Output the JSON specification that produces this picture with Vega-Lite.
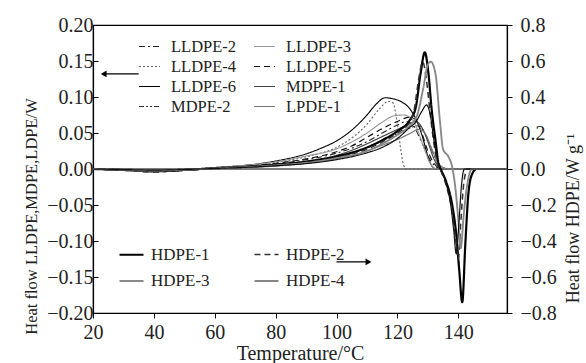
{
  "$schema": "https://vega.github.io/schema/vega-lite/v6.json",
  "width": 414,
  "height": 288,
  "autosize": {"type": "none"},
  "padding": {"left": 93, "top": 25, "right": 79, "bottom": 50},
  "background": "white",
  "datasets": {
    "ll": [
      {"s":"LLDPE-6","t":20,"v":0},{"s":"LLDPE-6","t":30,"v":-0.002},{"s":"LLDPE-6","t":40,"v":-0.004},{"s":"LLDPE-6","t":50,"v":-0.002},{"s":"LLDPE-6","t":60,"v":0.002},{"s":"LLDPE-6","t":70,"v":0.005},{"s":"LLDPE-6","t":80,"v":0.011},{"s":"LLDPE-6","t":90,"v":0.021},{"s":"LLDPE-6","t":95,"v":0.029},{"s":"LLDPE-6","t":100,"v":0.039},{"s":"LLDPE-6","t":105,"v":0.054},{"s":"LLDPE-6","t":110,"v":0.075},{"s":"LLDPE-6","t":113,"v":0.09},{"s":"LLDPE-6","t":116,"v":0.099},{"s":"LLDPE-6","t":118,"v":0.098},{"s":"LLDPE-6","t":121,"v":0.094},{"s":"LLDPE-6","t":124,"v":0.084},{"s":"LLDPE-6","t":126,"v":0.07},{"s":"LLDPE-6","t":128,"v":0.048},{"s":"LLDPE-6","t":130,"v":0.018},{"s":"LLDPE-6","t":131.5,"v":0.003},{"s":"LLDPE-6","t":133,"v":0},{"s":"LLDPE-6","t":156,"v":0},
      {"s":"LLDPE-4","t":20,"v":0},{"s":"LLDPE-4","t":30,"v":-0.002},{"s":"LLDPE-4","t":40,"v":-0.003},{"s":"LLDPE-4","t":50,"v":-0.002},{"s":"LLDPE-4","t":60,"v":0.002},{"s":"LLDPE-4","t":70,"v":0.005},{"s":"LLDPE-4","t":80,"v":0.009},{"s":"LLDPE-4","t":90,"v":0.017},{"s":"LLDPE-4","t":100,"v":0.03},{"s":"LLDPE-4","t":105,"v":0.043},{"s":"LLDPE-4","t":110,"v":0.062},{"s":"LLDPE-4","t":114,"v":0.083},{"s":"LLDPE-4","t":117,"v":0.094},{"s":"LLDPE-4","t":118.5,"v":0.092},{"s":"LLDPE-4","t":120,"v":0.062},{"s":"LLDPE-4","t":121,"v":0.03},{"s":"LLDPE-4","t":122,"v":0.006},{"s":"LLDPE-4","t":123,"v":0},{"s":"LLDPE-4","t":156,"v":0},
      {"s":"LLDPE-5","t":20,"v":0},{"s":"LLDPE-5","t":30,"v":-0.002},{"s":"LLDPE-5","t":40,"v":-0.004},{"s":"LLDPE-5","t":50,"v":-0.002},{"s":"LLDPE-5","t":60,"v":0.001},{"s":"LLDPE-5","t":70,"v":0.004},{"s":"LLDPE-5","t":80,"v":0.008},{"s":"LLDPE-5","t":90,"v":0.014},{"s":"LLDPE-5","t":100,"v":0.024},{"s":"LLDPE-5","t":105,"v":0.032},{"s":"LLDPE-5","t":110,"v":0.044},{"s":"LLDPE-5","t":115,"v":0.056},{"s":"LLDPE-5","t":120,"v":0.066},{"s":"LLDPE-5","t":124,"v":0.072},{"s":"LLDPE-5","t":126,"v":0.068},{"s":"LLDPE-5","t":128,"v":0.05},{"s":"LLDPE-5","t":130,"v":0.025},{"s":"LLDPE-5","t":132,"v":0.008},{"s":"LLDPE-5","t":134,"v":0.001},{"s":"LLDPE-5","t":136,"v":0},{"s":"LLDPE-5","t":156,"v":0},
      {"s":"MDPE-1","t":20,"v":0},{"s":"MDPE-1","t":30,"v":-0.001},{"s":"MDPE-1","t":40,"v":-0.003},{"s":"MDPE-1","t":50,"v":-0.002},{"s":"MDPE-1","t":60,"v":0.001},{"s":"MDPE-1","t":70,"v":0.003},{"s":"MDPE-1","t":80,"v":0.006},{"s":"MDPE-1","t":90,"v":0.011},{"s":"MDPE-1","t":100,"v":0.019},{"s":"MDPE-1","t":105,"v":0.026},{"s":"MDPE-1","t":110,"v":0.035},{"s":"MDPE-1","t":115,"v":0.045},{"s":"MDPE-1","t":120,"v":0.055},{"s":"MDPE-1","t":124,"v":0.063},{"s":"MDPE-1","t":126,"v":0.066},{"s":"MDPE-1","t":128,"v":0.058},{"s":"MDPE-1","t":130,"v":0.038},{"s":"MDPE-1","t":132,"v":0.014},{"s":"MDPE-1","t":134,"v":0.002},{"s":"MDPE-1","t":136,"v":0},{"s":"MDPE-1","t":156,"v":0},
      {"s":"MDPE-2","t":20,"v":0},{"s":"MDPE-2","t":30,"v":-0.001},{"s":"MDPE-2","t":40,"v":-0.003},{"s":"MDPE-2","t":50,"v":-0.001},{"s":"MDPE-2","t":60,"v":0.001},{"s":"MDPE-2","t":70,"v":0.003},{"s":"MDPE-2","t":80,"v":0.005},{"s":"MDPE-2","t":90,"v":0.009},{"s":"MDPE-2","t":100,"v":0.016},{"s":"MDPE-2","t":110,"v":0.029},{"s":"MDPE-2","t":115,"v":0.039},{"s":"MDPE-2","t":120,"v":0.049},{"s":"MDPE-2","t":124,"v":0.057},{"s":"MDPE-2","t":127,"v":0.06},{"s":"MDPE-2","t":129,"v":0.05},{"s":"MDPE-2","t":131,"v":0.03},{"s":"MDPE-2","t":133,"v":0.01},{"s":"MDPE-2","t":135,"v":0.002},{"s":"MDPE-2","t":137,"v":0},{"s":"MDPE-2","t":156,"v":0},
      {"s":"LLDPE-2","t":20,"v":0},{"s":"LLDPE-2","t":30,"v":-0.002},{"s":"LLDPE-2","t":40,"v":-0.003},{"s":"LLDPE-2","t":50,"v":-0.002},{"s":"LLDPE-2","t":60,"v":0.001},{"s":"LLDPE-2","t":70,"v":0.004},{"s":"LLDPE-2","t":80,"v":0.007},{"s":"LLDPE-2","t":90,"v":0.013},{"s":"LLDPE-2","t":100,"v":0.022},{"s":"LLDPE-2","t":110,"v":0.038},{"s":"LLDPE-2","t":115,"v":0.05},{"s":"LLDPE-2","t":120,"v":0.061},{"s":"LLDPE-2","t":123,"v":0.066},{"s":"LLDPE-2","t":125,"v":0.062},{"s":"LLDPE-2","t":127,"v":0.046},{"s":"LLDPE-2","t":129,"v":0.028},{"s":"LLDPE-2","t":131,"v":0.011},{"s":"LLDPE-2","t":133,"v":0.002},{"s":"LLDPE-2","t":135,"v":0},{"s":"LLDPE-2","t":156,"v":0},
      {"s":"LLDPE-3","t":20,"v":0},{"s":"LLDPE-3","t":30,"v":-0.002},{"s":"LLDPE-3","t":40,"v":-0.003},{"s":"LLDPE-3","t":50,"v":-0.001},{"s":"LLDPE-3","t":60,"v":0.002},{"s":"LLDPE-3","t":70,"v":0.005},{"s":"LLDPE-3","t":80,"v":0.01},{"s":"LLDPE-3","t":90,"v":0.018},{"s":"LLDPE-3","t":100,"v":0.028},{"s":"LLDPE-3","t":110,"v":0.05},{"s":"LLDPE-3","t":115,"v":0.065},{"s":"LLDPE-3","t":119,"v":0.074},{"s":"LLDPE-3","t":122,"v":0.075},{"s":"LLDPE-3","t":125,"v":0.068},{"s":"LLDPE-3","t":127,"v":0.05},{"s":"LLDPE-3","t":129,"v":0.026},{"s":"LLDPE-3","t":131,"v":0.006},{"s":"LLDPE-3","t":133,"v":0},{"s":"LLDPE-3","t":156,"v":0},
      {"s":"LPDE-1","t":20,"v":0},{"s":"LPDE-1","t":30,"v":-0.001},{"s":"LPDE-1","t":40,"v":-0.002},{"s":"LPDE-1","t":50,"v":-0.001},{"s":"LPDE-1","t":60,"v":0.001},{"s":"LPDE-1","t":70,"v":0.002},{"s":"LPDE-1","t":80,"v":0.004},{"s":"LPDE-1","t":90,"v":0.008},{"s":"LPDE-1","t":100,"v":0.014},{"s":"LPDE-1","t":110,"v":0.025},{"s":"LPDE-1","t":115,"v":0.033},{"s":"LPDE-1","t":120,"v":0.041},{"s":"LPDE-1","t":124,"v":0.049},{"s":"LPDE-1","t":127,"v":0.055},{"s":"LPDE-1","t":129,"v":0.05},{"s":"LPDE-1","t":131,"v":0.031},{"s":"LPDE-1","t":133,"v":0.011},{"s":"LPDE-1","t":135,"v":0.002},{"s":"LPDE-1","t":137,"v":0},{"s":"LPDE-1","t":156,"v":0}
    ],
    "hd": [
      {"s":"HDPE-1","t":20,"v":0},{"s":"HDPE-1","t":30,"v":-0.004},{"s":"HDPE-1","t":40,"v":-0.008},{"s":"HDPE-1","t":50,"v":-0.004},{"s":"HDPE-1","t":60,"v":0.004},{"s":"HDPE-1","t":70,"v":0.012},{"s":"HDPE-1","t":80,"v":0.024},{"s":"HDPE-1","t":90,"v":0.04},{"s":"HDPE-1","t":100,"v":0.07},{"s":"HDPE-1","t":110,"v":0.12},{"s":"HDPE-1","t":115,"v":0.16},{"s":"HDPE-1","t":120,"v":0.21},{"s":"HDPE-1","t":124,"v":0.27},{"s":"HDPE-1","t":126,"v":0.34},{"s":"HDPE-1","t":127.6,"v":0.53},{"s":"HDPE-1","t":129,"v":0.648},{"s":"HDPE-1","t":130.2,"v":0.53},{"s":"HDPE-1","t":131.2,"v":0.34},{"s":"HDPE-1","t":132.5,"v":0.16},{"s":"HDPE-1","t":133.5,"v":0.03},{"s":"HDPE-1","t":134.5,"v":-0.01},{"s":"HDPE-1","t":136,"v":-0.07},{"s":"HDPE-1","t":138,"v":-0.2},{"s":"HDPE-1","t":139.3,"v":-0.36},{"s":"HDPE-1","t":140.3,"v":-0.56},{"s":"HDPE-1","t":141.3,"v":-0.74},{"s":"HDPE-1","t":142.3,"v":-0.42},{"s":"HDPE-1","t":143.3,"v":-0.14},{"s":"HDPE-1","t":144.5,"v":-0.03},{"s":"HDPE-1","t":146,"v":0},{"s":"HDPE-1","t":156,"v":0},
      {"s":"HDPE-2","t":20,"v":0},{"s":"HDPE-2","t":30,"v":-0.004},{"s":"HDPE-2","t":40,"v":-0.01},{"s":"HDPE-2","t":50,"v":-0.005},{"s":"HDPE-2","t":60,"v":0.003},{"s":"HDPE-2","t":70,"v":0.01},{"s":"HDPE-2","t":80,"v":0.02},{"s":"HDPE-2","t":90,"v":0.036},{"s":"HDPE-2","t":100,"v":0.064},{"s":"HDPE-2","t":110,"v":0.11},{"s":"HDPE-2","t":115,"v":0.15},{"s":"HDPE-2","t":120,"v":0.2},{"s":"HDPE-2","t":124,"v":0.26},{"s":"HDPE-2","t":125.5,"v":0.33},{"s":"HDPE-2","t":127,"v":0.5},{"s":"HDPE-2","t":128.3,"v":0.596},{"s":"HDPE-2","t":129.5,"v":0.5},{"s":"HDPE-2","t":130.7,"v":0.32},{"s":"HDPE-2","t":132,"v":0.14},{"s":"HDPE-2","t":133.2,"v":0.03},{"s":"HDPE-2","t":134.5,"v":-0.02},{"s":"HDPE-2","t":136,"v":-0.09},{"s":"HDPE-2","t":138,"v":-0.24},{"s":"HDPE-2","t":139.2,"v":-0.4},{"s":"HDPE-2","t":140,"v":-0.5},{"s":"HDPE-2","t":140.8,"v":-0.3},{"s":"HDPE-2","t":141.8,"v":-0.08},{"s":"HDPE-2","t":143,"v":0},{"s":"HDPE-2","t":156,"v":0},
      {"s":"HDPE-3","t":20,"v":0},{"s":"HDPE-3","t":30,"v":-0.003},{"s":"HDPE-3","t":40,"v":-0.007},{"s":"HDPE-3","t":50,"v":-0.004},{"s":"HDPE-3","t":60,"v":0.003},{"s":"HDPE-3","t":70,"v":0.01},{"s":"HDPE-3","t":80,"v":0.02},{"s":"HDPE-3","t":90,"v":0.034},{"s":"HDPE-3","t":100,"v":0.06},{"s":"HDPE-3","t":110,"v":0.1},{"s":"HDPE-3","t":115,"v":0.14},{"s":"HDPE-3","t":120,"v":0.19},{"s":"HDPE-3","t":124,"v":0.24},{"s":"HDPE-3","t":126.5,"v":0.3},{"s":"HDPE-3","t":128.5,"v":0.45},{"s":"HDPE-3","t":130,"v":0.58},{"s":"HDPE-3","t":131,"v":0.596},{"s":"HDPE-3","t":132.5,"v":0.53},{"s":"HDPE-3","t":134,"v":0.26},{"s":"HDPE-3","t":135,"v":0.11},{"s":"HDPE-3","t":136.7,"v":0.07},{"s":"HDPE-3","t":138,"v":0.01},{"s":"HDPE-3","t":139,"v":-0.1},{"s":"HDPE-3","t":140,"v":-0.28},{"s":"HDPE-3","t":140.8,"v":-0.44},{"s":"HDPE-3","t":141.8,"v":-0.25},{"s":"HDPE-3","t":143,"v":-0.08},{"s":"HDPE-3","t":144.5,"v":0},{"s":"HDPE-3","t":156,"v":0},
      {"s":"HDPE-4","t":20,"v":0},{"s":"HDPE-4","t":30,"v":-0.003},{"s":"HDPE-4","t":40,"v":-0.006},{"s":"HDPE-4","t":50,"v":-0.003},{"s":"HDPE-4","t":60,"v":0.003},{"s":"HDPE-4","t":70,"v":0.009},{"s":"HDPE-4","t":80,"v":0.018},{"s":"HDPE-4","t":90,"v":0.03},{"s":"HDPE-4","t":100,"v":0.052},{"s":"HDPE-4","t":110,"v":0.09},{"s":"HDPE-4","t":115,"v":0.12},{"s":"HDPE-4","t":120,"v":0.17},{"s":"HDPE-4","t":124,"v":0.23},{"s":"HDPE-4","t":126,"v":0.26},{"s":"HDPE-4","t":128,"v":0.32},{"s":"HDPE-4","t":129.6,"v":0.356},{"s":"HDPE-4","t":130.8,"v":0.3},{"s":"HDPE-4","t":132,"v":0.16},{"s":"HDPE-4","t":133.2,"v":0.05},{"s":"HDPE-4","t":134.3,"v":0},{"s":"HDPE-4","t":136,"v":-0.08},{"s":"HDPE-4","t":137.5,"v":-0.2},{"s":"HDPE-4","t":138.5,"v":-0.34},{"s":"HDPE-4","t":139.3,"v":-0.47},{"s":"HDPE-4","t":140.2,"v":-0.3},{"s":"HDPE-4","t":141,"v":-0.1},{"s":"HDPE-4","t":142,"v":0},{"s":"HDPE-4","t":156,"v":0}
    ],
    "zero": [{"t":20,"v":0},{"t":156,"v":0}],
    "arrows": [{"t":23.5,"t2":35,"v":0.132},{"t":100,"t2":110.5,"v":-0.129}],
    "heads": [{"t":23.5,"v":0.132,"sh":"triangle-left"},{"t":110.5,"v":-0.129,"sh":"triangle-right"}]
  },
  "encoding": {
    "x": {"field": "t", "type": "quantitative", "scale": {"domain": [20, 156], "nice": false, "zero": false}, "axis": {"orient": "bottom", "values": [20,40,60,80,100,120,140], "format": "d", "tickSize": 5, "labelPadding": 4, "labelOverlap": false, "title": "Temperature/°C", "titlePadding": 1}}
  },
  "layer": [
    {
      "encoding": {
        "y": {"field": "v", "type": "quantitative", "scale": {"domain": [-0.2, 0.2], "nice": false, "zero": false}, "axis": {"orient": "left", "values": [-0.2,-0.15,-0.1,-0.05,0,0.05,0.1,0.15,0.2], "format": ".2f", "tickSize": -5, "labelPadding": 5, "labelOverlap": false, "title": "Heat flow LLDPE,MDPE,LDPE/W", "titleFontSize": 16.5, "titleX": -54, "titleY": 191}}
      },
      "layer": [
        {
          "data": {"name": "zero"},
          "mark": {"type": "line", "color": "#000", "strokeWidth": 1.2}
        },
        {
          "data": {"name": "ll"},
          "mark": {"type": "line", "interpolate": "monotone"},
          "encoding": {
            "color": {"field": "s", "type": "nominal", "scale": {"domain": ["LLDPE-2","LLDPE-4","LLDPE-6","MDPE-2","LLDPE-3","LLDPE-5","MDPE-1","LPDE-1"], "range": ["#222","#666","#000","#333","#999","#111","#444","#777"]},
              "legend": {"orient": "none", "legendX": 45, "legendY": 10, "columns": 2, "title": null, "symbolType": "stroke", "symbolSize": 441, "labelFontSize": 16.5, "columnPadding": 14, "rowPadding": -2, "padding": 0, "labelOffset": 10}},
            "strokeDash": {"field": "s", "type": "nominal", "scale": {"domain": ["LLDPE-2","LLDPE-4","LLDPE-6","MDPE-2","LLDPE-3","LLDPE-5","MDPE-1","LPDE-1"], "range": [[6,3,2,3],[2,2],[1,0],[5,2,2,2,2,2],[1,0],[6,4],[1,0],[1,0]]}},
            "strokeWidth": {"field": "s", "type": "nominal", "scale": {"domain": ["LLDPE-2","LLDPE-4","LLDPE-6","MDPE-2","LLDPE-3","LLDPE-5","MDPE-1","LPDE-1"], "range": [1.1,1.2,2,1.1,1,2,1.4,1]}}
          }
        },
        {
          "data": {"name": "arrows"},
          "mark": {"type": "rule", "color": "#000", "strokeWidth": 1.3},
          "encoding": {"x2": {"field": "t2"}}
        },
        {
          "data": {"name": "heads"},
          "mark": {"type": "point", "filled": true, "color": "#000", "opacity": 1, "size": 45},
          "encoding": {"shape": {"field": "sh", "type": "nominal", "scale": null}}
        }
      ]
    },
    {
      "data": {"name": "hd"},
      "mark": {"type": "line", "interpolate": "monotone"},
      "encoding": {
        "y": {"field": "v", "type": "quantitative", "scale": {"domain": [-0.8, 0.8], "nice": false, "zero": false}, "axis": {"orient": "right", "values": [-0.8,-0.6,-0.4,-0.2,0,0.2,0.4,0.6,0.8], "format": ".1f", "tickSize": 5, "labelPadding": 8, "labelOverlap": false, "title": "Heat flow HDPE/W g⁻¹", "titleFontSize": 18, "titleAngle": -90, "titleX": 75, "titleY": 193}},
        "color": {"field": "s", "type": "nominal", "scale": {"domain": ["HDPE-1","HDPE-3","HDPE-2","HDPE-4"], "range": ["#000","#888","#333","#111"]},
          "legend": {"orient": "none", "legendX": 25, "legendY": 216, "columns": 2, "title": null, "symbolType": "stroke", "symbolSize": 576, "labelFontSize": 17, "columnPadding": 41, "rowPadding": 5, "padding": 0, "labelOffset": 6}},
        "strokeDash": {"field": "s", "type": "nominal", "scale": {"domain": ["HDPE-1","HDPE-3","HDPE-2","HDPE-4"], "range": [[1,0],[1,0],[6,4],[1,0]]}},
        "strokeWidth": {"field": "s", "type": "nominal", "scale": {"domain": ["HDPE-1","HDPE-3","HDPE-2","HDPE-4"], "range": [2.2,1.2,1.2,1.5]}}
      }
    }
  ],
  "resolve": {"scale": {"y": "independent", "color": "independent", "strokeDash": "independent", "strokeWidth": "independent"}},
  "config": {
    "font": "Liberation Serif",
    "view": {"stroke": "#000", "strokeWidth": 1.2},
    "axis": {"grid": false, "labelOverlap": false, "labelFlush": false, "domainColor": "#000", "domainWidth": 1.2, "tickColor": "#000", "labelColor": "#222", "titleColor": "#222", "labelFont": "Liberation Serif", "titleFont": "Liberation Serif", "labelFontSize": 20, "titleFontSize": 20, "titleFontWeight": "normal"},
    "legend": {"labelFont": "Liberation Serif", "labelColor": "#222"}
  }
}
